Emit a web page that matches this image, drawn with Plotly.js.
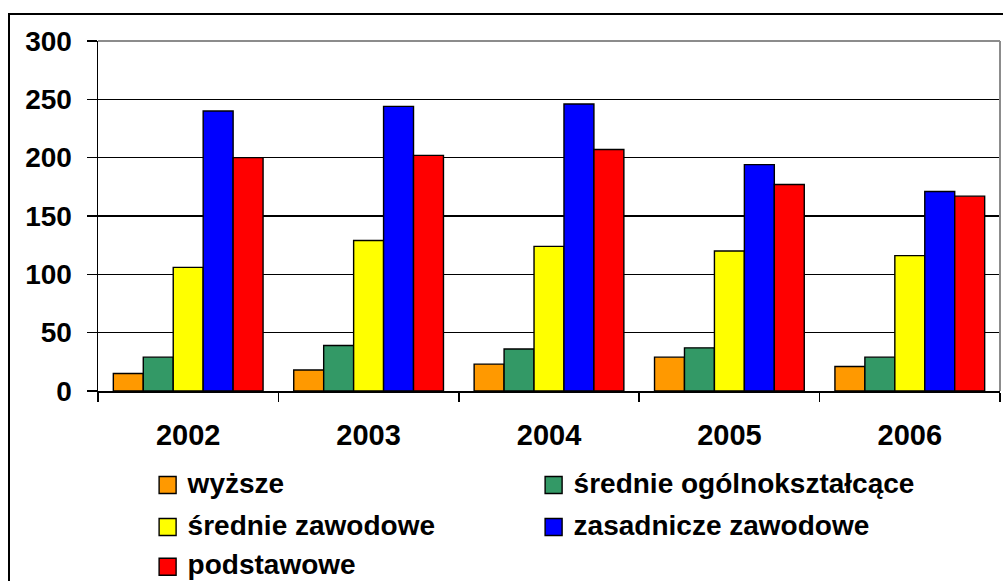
<!DOCTYPE html>
<html>
<head>
<meta charset="utf-8">
<script src="https://cdn.plot.ly/plotly-3.0.1.min.js"></script>
<style>
html,body{margin:0;padding:0;overflow:hidden;background:#fff;}
#chart{width:1003px;height:581px;position:relative;}
#frame{position:absolute;left:8px;top:13px;width:1010px;height:620px;border:2px solid #000;pointer-events:none;box-sizing:border-box;}
</style>
</head>
<body>
<div id="chart"></div>
<div id="frame"></div>
<script>
var years = ['2002', '2003', '2004', '2005', '2006'];
var seriesNames = ['wyższe', 'średnie ogólnokształcące', 'średnie zawodowe', 'zasadnicze zawodowe', 'podstawowe'];
var wyzsze = [15, 18, 23, 29, 21];
var srednieOgolne = [29, 39, 36, 37, 29];
var srednieZawodowe = [106, 129, 124, 120, 116];
var zasadnicze = [240, 244, 246, 194, 171];
var podstawowe = [200, 202, 207, 177, 167];
var yTicks = [0, 50, 100, 150, 200, 250, 300];
var colors = ['#FF9900', '#339966', '#FFFF00', '#0000FF', '#FF0000'];
var legendRow = ['legend', 'legend', 'legend2', 'legend2', 'legend3'];

var allValues = [wyzsze, srednieOgolne, srednieZawodowe, zasadnicze, podstawowe];
var traces = allValues.map(function (vals, i) {
  return {
    type: 'bar',
    name: seriesNames[i],
    x: years,
    y: vals,
    legend: legendRow[i],
    marker: {color: colors[i], line: {color: '#000', width: 1.4}},
    hoverinfo: 'x+y+name'
  };
});

function f(size) {
  return {family: 'Liberation Sans, Arial, sans-serif', size: size, color: '#000', weight: 'bold'};
}
function leg(y) {
  return {
    orientation: 'h', x: 0.055, xanchor: 'left', y: y, yanchor: 'top',
    entrywidth: 341, entrywidthmode: 'pixels', traceorder: 'normal',
    font: f(28), bgcolor: 'rgba(0,0,0,0)'
  };
}

var layout = {
  width: 1003,
  height: 581,
  margin: {l: 98, r: 3, t: 40.5, b: 190, autoexpand: false},
  paper_bgcolor: '#fff',
  plot_bgcolor: '#fff',
  font: f(28),
  barmode: 'group',
  bargap: 0.17,
  bargroupgap: 0,
  showlegend: true,
  legend: leg(-0.1886),
  legend2: leg(-0.3084),
  legend3: leg(-0.4223),
  xaxis: {
    type: 'category',
    showline: true,
    linecolor: '#000',
    linewidth: 1.5,
    ticks: 'outside',
    tickson: 'boundaries',
    ticklen: 9,
    tickwidth: 1.5,
    tickcolor: '#000',
    ticklabelstandoff: 18,
    tickfont: f(29),
    showgrid: false,
    zeroline: false
  },
  yaxis: {
    range: [0, 300],
    tickvals: yTicks,
    ticktext: yTicks.map(String),
    showline: true,
    linecolor: '#000',
    linewidth: 1.5,
    ticks: 'outside',
    ticklen: 10,
    tickwidth: 1.5,
    tickcolor: '#000',
    ticklabelstandoff: 9,
    tickfont: f(28),
    showgrid: true,
    gridcolor: '#000',
    gridwidth: 1.2,
    zeroline: false
  },
  shapes: [
    {type: 'line', xref: 'paper', yref: 'paper', x0: 0, x1: 1, y0: 1, y1: 1, line: {color: '#8c8c8c', width: 2}},
    {type: 'line', xref: 'paper', yref: 'paper', x0: 1, x1: 1, y0: 0, y1: 1, line: {color: '#8c8c8c', width: 2}}
  ]
};

Plotly.newPlot('chart', traces, layout, {displayModeBar: false, staticPlot: true}).then(function () {
  document.querySelectorAll('.legendpoints path').forEach(function (p) {
    var t = p.getAttribute('transform') || '';
    p.setAttribute('d', 'M8.5,8.5H-8.5V-8.5H8.5Z');
    p.setAttribute('transform', t + ' translate(0,3.3)');
  });
});
</script>
</body>
</html>
